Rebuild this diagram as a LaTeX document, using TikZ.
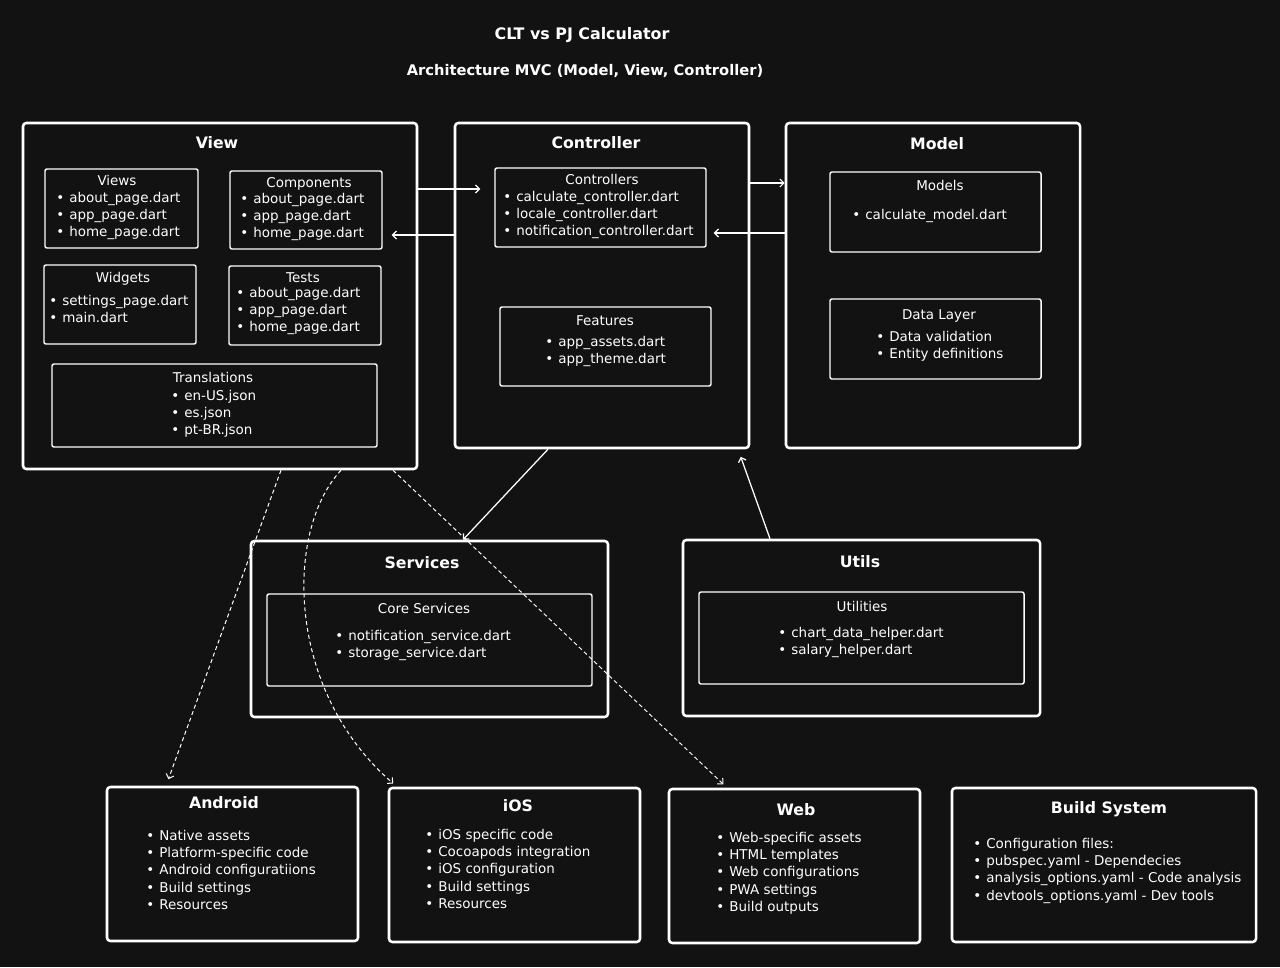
\documentclass[tikz,border=0pt]{standalone}
\usepackage{fontspec}
\setmainfont{DejaVu Sans}
\usetikzlibrary{arrows.meta,calc}
\definecolor{bg}{HTML}{121212}
\newcommand\bx[6]{\node[#1, minimum width={(#5-#3)*0.75pt}, minimum height={(#6-#4)*0.75pt}] (#2) at ({(#3+#5)/2},{(#4+#6)/2}) {};}
\newcommand\itm{\makebox[9.8pt][l]{•}}
\newcommand\lst[1]{\begin{tabular}[t]{@{}l@{}}#1\end{tabular}}
\tikzset{
  bigbox/.style={draw=white, line width=1.9pt, rounded corners=2.5pt, inner sep=0},
  subbox/.style={draw=white, line width=1.1pt, rounded corners=1.5pt, inner sep=0},
  bigtitle/.style={anchor=base, text=white, inner sep=0, font=\fontsize{11.8pt}{15pt}\selectfont\bfseries},
  subtitle/.style={anchor=base, text=white, inner sep=0, font=\fontsize{10.1pt}{12pt}\selectfont},
  lstnode/.style={anchor=base west, text=white, inner sep=0, font=\fontsize{10.1pt}{13.05pt}\selectfont},
  arr/.style={draw=white, line width=0.95pt, -{Straight Barb[length=3pt,width=6pt,line width=0.9pt]}},
  darr/.style={draw=white, line width=0.75pt, dash pattern=on 3pt off 2.2pt, -{Straight Barb[length=3pt,width=6pt,line width=0.75pt]}},
}
\begin{document}
\begin{tikzpicture}[x=0.75pt,y=-0.75pt]
\fill[bg] (0,0) rectangle (1280,967);
\useasboundingbox (0,0) rectangle (1280,967);

% titles
\node[text=white, inner sep=0, anchor=base, font=\fontsize{11.9pt}{14pt}\selectfont\bfseries] (maintitle) at (582,39) {CLT vs PJ Calculator};
\node[text=white, inner sep=0, anchor=base, font=\fontsize{11pt}{14pt}\selectfont\bfseries] (subtitlemain) at (585,75) {Architecture MVC (Model, View, Controller)};

% ---------------- View ----------------
\bx{bigbox}{view}{23}{123}{417}{469}
\node[bigtitle] (viewt) at (217,148) {View};
\bx{subbox}{views}{45}{169}{198}{248}
\node[subtitle] (viewst) at (117,185) {Views};
\node[lstnode] (viewsl) at (56,202) {\lst{\itm about\_page.dart\\ \itm app\_page.dart\\ \itm home\_page.dart}};
\bx{subbox}{comp}{230}{171}{382}{249}
\node[subtitle] (compt) at (309,187) {Components};
\node[lstnode] (compl) at (240,203) {\lst{\itm about\_page.dart\\ \itm app\_page.dart\\ \itm home\_page.dart}};
\bx{subbox}{widg}{44}{265}{196}{344}
\node[subtitle] (widgt) at (123,282) {Widgets};
\node[lstnode] (widgl) at (49,305) {\lst{\itm settings\_page.dart\\ \itm main.dart}};
\bx{subbox}{tests}{229}{266}{381}{345}
\node[subtitle] (testst) at (303,282) {Tests};
\node[lstnode] (testsl) at (236,297) {\lst{\itm about\_page.dart\\ \itm app\_page.dart\\ \itm home\_page.dart}};
\bx{subbox}{trans}{52}{364}{377}{447}
\node[subtitle] (transt) at (213,382) {Translations};
\node[lstnode] (transl) at (171,400) {\lst{\itm en-US.json\\ \itm es.json\\ \itm pt-BR.json}};

% ---------------- Controller ----------------
\bx{bigbox}{ctrl}{455}{123}{749}{448}
\node[bigtitle] (ctrlt) at (596,148) {Controller};
\bx{subbox}{ctrls}{495}{168}{706}{247}
\node[subtitle] (ctrlst) at (602,184) {Controllers};
\node[lstnode] (ctrlsl) at (503,201) {\lst{\itm calculate\_controller.dart\\ \itm locale\_controller.dart\\ \itm notification\_controller.dart}};
\bx{subbox}{feat}{500}{307}{711}{386}
\node[subtitle] (featt) at (605,325) {Features};
\node[lstnode] (featl) at (545,346) {\lst{\itm app\_assets.dart\\ \itm app\_theme.dart}};

% ---------------- Model ----------------
\bx{bigbox}{model}{786}{123}{1080}{448}
\node[bigtitle] (modelt) at (937,149) {Model};
\bx{subbox}{models}{830}{172}{1041}{252}
\node[subtitle] (modelst) at (940,190) {Models};
\node[lstnode] (modelsl) at (852,219) {\lst{\itm calculate\_model.dart}};
\bx{subbox}{data}{830}{299}{1041}{379}
\node[subtitle] (datat) at (939,319) {Data Layer};
\node[lstnode] (datal) at (876,341) {\lst{\itm Data validation\\ \itm Entity definitions}};

% ---------------- Services ----------------
\bx{bigbox}{serv}{251}{541}{608}{717}
\node[bigtitle] (servt) at (422,568) {Services};
\bx{subbox}{core}{267}{594}{592}{686}
\node[subtitle] (coret) at (424,613) {Core Services};
\node[lstnode] (corel) at (335,640) {\lst{\itm notification\_service.dart\\ \itm storage\_service.dart}};

% ---------------- Utils ----------------
\bx{bigbox}{utils}{683}{540}{1040}{716}
\node[bigtitle] (utilst) at (860,567) {Utils};
\bx{subbox}{util}{699}{592}{1024}{684}
\node[subtitle] (utilt) at (862,611) {Utilities};
\node[lstnode] (utill) at (778,637) {\lst{\itm chart\_data\_helper.dart\\ \itm salary\_helper.dart}};

% ---------------- Platforms ----------------
\bx{bigbox}{android}{107}{787}{358}{941}
\node[bigtitle] (androidt) at (224,808) {Android};
\node[lstnode] (androidl) at (146,840) {\lst{\itm Native assets\\ \itm Platform-specific code\\ \itm Android configuratiions\\ \itm Build settings\\ \itm Resources}};
\bx{bigbox}{ios}{389}{788}{640}{942}
\node[bigtitle] (iost) at (518,811) {iOS};
\node[lstnode] (iosl) at (425,839) {\lst{\itm iOS specific code\\ \itm Cocoapods integration\\ \itm iOS configuration\\ \itm Build settings\\ \itm Resources}};
\bx{bigbox}{web}{669}{789}{920}{943}
\node[bigtitle] (webt) at (796,815) {Web};
\node[lstnode] (webl) at (716,842) {\lst{\itm Web-specific assets\\ \itm HTML templates\\ \itm Web configurations\\ \itm PWA settings\\ \itm Build outputs}};
\bx{bigbox}{build}{952}{788}{1256}{942}
\node[bigtitle] (buildt) at (1109,813) {Build System};
\node[lstnode] (buildl) at (973,848) {\lst{\itm Configuration files:\\ \itm pubspec.yaml - Dependecies\\ \itm analysis\_options.yaml - Code analysis\\ \itm devtools\_options.yaml - Dev tools}};

% ---------------- connectors ----------------
\draw[arr, shorten >=10.5pt] (view.east |- 0,189) -- (ctrls.west |- 0,189);
\draw[arr, shorten >=6.75pt] (ctrl.west |- 0,235) -- (comp.east |- 0,235);
\draw[arr] (ctrl.east |- 0,183) -- (model.west |- 0,183);
\draw[arr, shorten >=5.25pt] (model.west |- 0,233) -- (ctrls.east |- 0,233);
\draw[arr] (ctrl.south -| 548,0) -- (serv.north -| 463,0);
\draw[arr, shorten >=6pt] (utils.north -| 770,0) -- (ctrl.south -| 738,0);
\draw[darr, shorten >=5.25pt] (view.south -| 281,0) -- (android.north -| 166,0);
\draw[darr, shorten >=3.75pt] (view.south -| 341,0) .. controls (285,530) and (285,690) .. (ios.north -| 397,0);
\draw[darr, shorten >=3.75pt] (view.south -| 393,0) -- (web.north -| 727,0);
\end{tikzpicture}
\end{document}
